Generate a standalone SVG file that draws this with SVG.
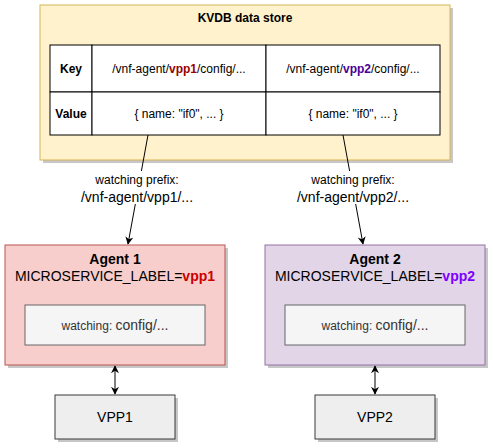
<svg xmlns="http://www.w3.org/2000/svg" width="493" height="448" viewBox="0 0 493 448">
<style>
text{font-family:"Liberation Sans",Arial,sans-serif;fill:#000;text-anchor:middle}
.sh{fill:#000;opacity:0.22}
.cell{fill:#fff;stroke:#000;stroke-width:1}
.t12{font-size:12px}
.t14{font-size:14px}
.b{font-weight:bold}
.ln{stroke:#000;stroke-width:1;fill:none}
</style>
<defs>
<marker id="ah" viewBox="0 0 10 10" refX="9" refY="5" markerWidth="8" markerHeight="8" markerUnits="userSpaceOnUse" orient="auto-start-reverse">
<path d="M0,0 L10,5 L0,10 L3,5 Z" fill="#000"/>
</marker>
</defs>
<rect width="493" height="448" fill="#fff"/>
<g id="kvdb">
<rect class="sh" x="43" y="8" width="410" height="155"/>
<rect x="40" y="5" width="410" height="155" fill="#fff2cc" stroke="#d6b656"/>
<text class="t12 b" x="245" y="22">KVDB data store</text>
<rect class="cell" x="50" y="45" width="42" height="47"/>
<rect class="cell" x="92" y="45" width="174" height="47"/>
<rect class="cell" x="266" y="45" width="174" height="47"/>
<rect class="cell" x="50" y="92" width="42" height="43"/>
<rect class="cell" x="92" y="92" width="174" height="43"/>
<rect class="cell" x="266" y="92" width="174" height="43"/>
<text class="t12 b" x="71" y="73">Key</text>
<text class="t12 b" x="71" y="118">Value</text>
<text class="t12" x="179" y="73">/vnf-agent/<tspan font-weight="bold" fill="#990000">vpp1</tspan>/config/...</text>
<text class="t12" x="353" y="73">/vnf-agent/<tspan font-weight="bold" fill="#4C0099">vpp2</tspan>/config/...</text>
<text class="t12" x="179" y="118">{ name: "if0", ... }</text>
<text class="t12" x="353" y="118">{ name: "if0", ... }</text>
</g>
<g id="connectors">
<line class="ln" x1="148" y1="135" x2="128" y2="244" marker-end="url(#ah)"/>
<line class="ln" x1="343" y1="135" x2="363" y2="244" marker-end="url(#ah)"/>
<rect x="78" y="171" width="120" height="33" fill="#fff"/>
<rect x="294" y="171" width="120" height="33" fill="#fff"/>
<text class="t12" x="137" y="184">watching prefix:</text>
<text class="t14" x="137" y="202">/vnf-agent/vpp1/...</text>
<text class="t12" x="353" y="184">watching prefix:</text>
<text class="t14" x="353" y="202">/vnf-agent/vpp2/...</text>
<line class="ln" x1="115" y1="366" x2="115" y2="394" marker-start="url(#ah)" marker-end="url(#ah)"/>
<line class="ln" x1="375" y1="366" x2="375" y2="394" marker-start="url(#ah)" marker-end="url(#ah)"/>
</g>
<g id="agent1">
<rect class="sh" x="8" y="248" width="220" height="120"/>
<rect x="5" y="245" width="220" height="120" fill="#f8cecc" stroke="#b85450"/>
<text class="t14 b" x="115" y="264">Agent 1</text>
<text class="t14" x="115" y="281">MICROSERVICE_LABEL=<tspan font-weight="bold" fill="#CC0000">vpp1</tspan></text>
<rect x="25" y="305" width="180" height="40" fill="#f5f5f5" stroke="#666666"/>
<text x="115" y="330" fill="#333333" style="fill:#333333"><tspan font-size="12px">watching: </tspan><tspan font-size="14px">config/...</tspan></text>
</g>
<g id="agent2">
<rect class="sh" x="268" y="248" width="220" height="120"/>
<rect x="265" y="245" width="220" height="120" fill="#e1d5e7" stroke="#9673a6"/>
<text class="t14 b" x="375" y="264">Agent 2</text>
<text class="t14" x="375" y="281">MICROSERVICE_LABEL=<tspan font-weight="bold" fill="#7F00FF">vpp2</tspan></text>
<rect x="285" y="305" width="180" height="40" fill="#f5f5f5" stroke="#666666"/>
<text x="375" y="330" style="fill:#333333"><tspan font-size="12px">watching: </tspan><tspan font-size="14px">config/...</tspan></text>
</g>
<g id="vpp1">
<rect class="sh" x="58" y="398" width="120" height="44"/>
<rect x="55" y="395" width="120" height="44" fill="#eeeeee" stroke="#36393d"/>
<text class="t14" x="115" y="422">VPP1</text>
</g>
<g id="vpp2">
<rect class="sh" x="318" y="398" width="120" height="44"/>
<rect x="315" y="395" width="120" height="44" fill="#eeeeee" stroke="#36393d"/>
<text class="t14" x="375" y="422">VPP2</text>
</g>
</svg>
